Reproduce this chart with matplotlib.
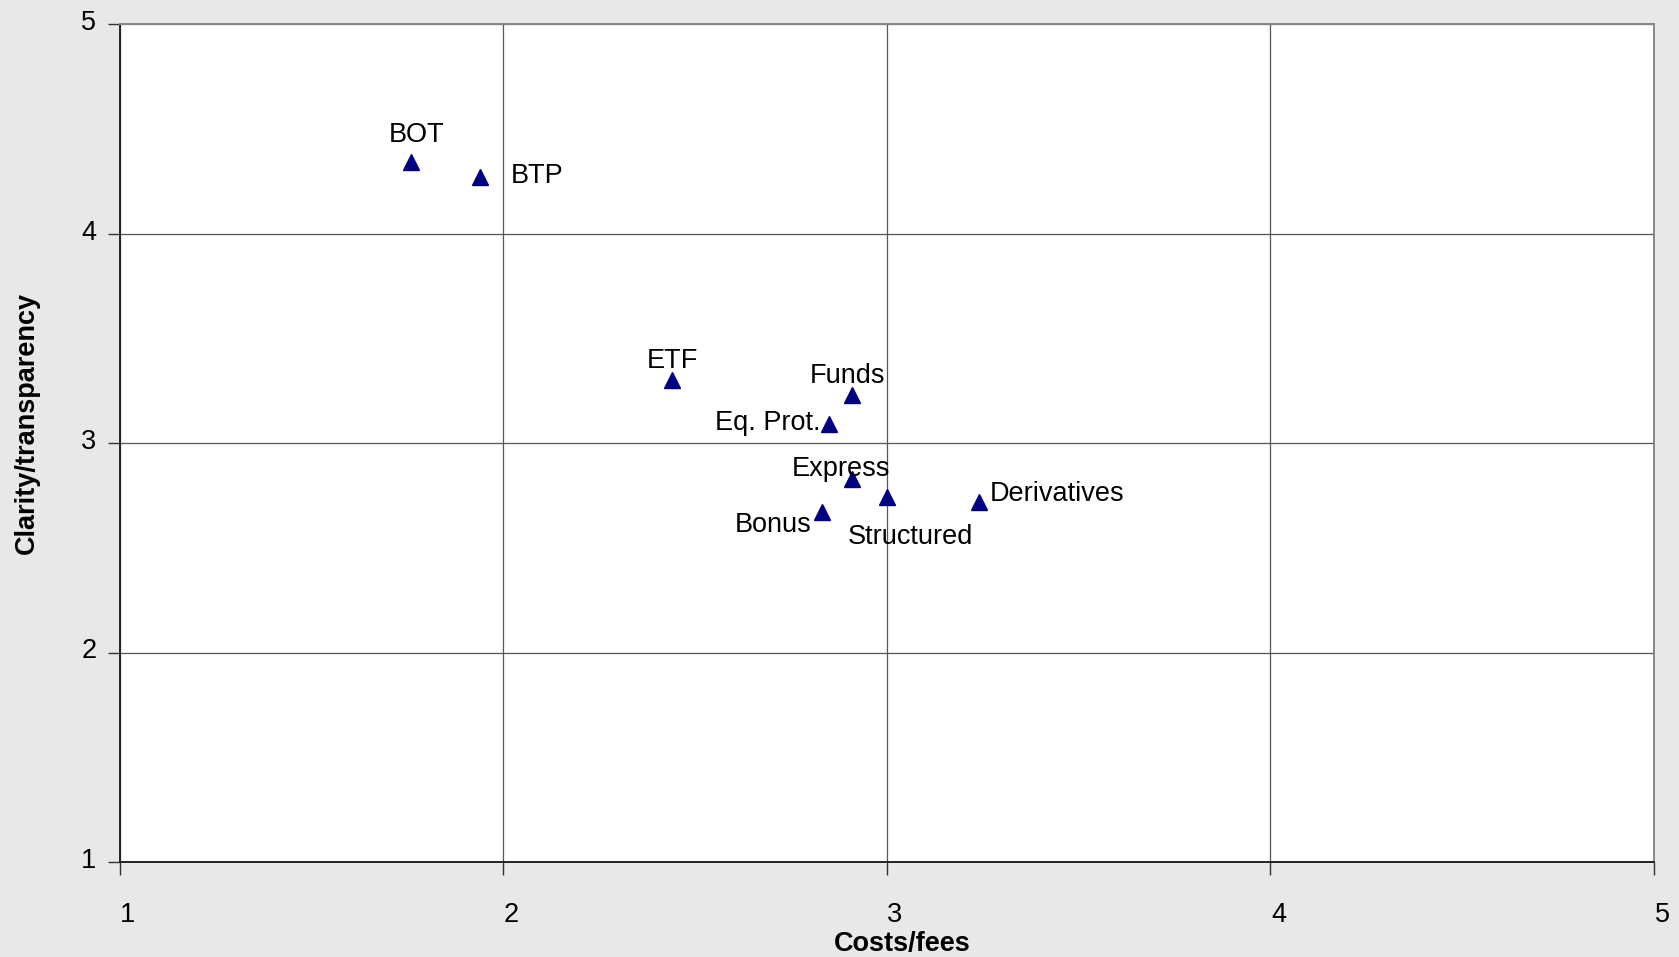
import matplotlib
matplotlib.use("Agg")
import matplotlib.pyplot as plt
from matplotlib.transforms import ScaledTranslation

plt.rcParams['font.family'] = ['Liberation Sans', 'DejaVu Sans']

labels = ["BOT", "BTP", "ETF", "Funds", "Eq. Prot.", "Express", "Structured", "Derivatives", "Bonus"]
costs = [1.76, 1.94, 2.44, 2.91, 2.85, 2.91, 3.00, 3.24, 2.83]
clarity = [4.34, 4.27, 3.30, 3.23, 3.09, 2.83, 2.74, 2.72, 2.67]
ticks = [1, 2, 3, 4, 5]

# label placement (offset pixels, alignment)
offsets = {
    "BOT": ((5, 27), 'center'),
    "BTP": ((30, 1), 'left'),
    "ETF": ((0, 19), 'center'),
    "Funds": ((-5, 19), 'center'),
    "Eq. Prot.": ((-9, 1), 'right'),
    "Express": ((-12, 10), 'center'),
    "Structured": ((23, -40), 'center'),
    "Derivatives": ((11, 8), 'left'),
    "Bonus": ((-10, -13), 'right'),
}

FS = 19.5
fig = plt.figure(figsize=(16.79, 9.57), dpi=100)
fig.patch.set_facecolor('#e8e8e8')
ax = fig.add_axes([120/1679, 1-862/957, (1654-120)/1679, (862-24)/957])
ax.set_facecolor('white')

ax.plot(costs, clarity, linestyle='none', marker='^', ms=11, color='#000080')
for lab, x, y in zip(labels, costs, clarity):
    off, ha = offsets[lab]
    ax.annotate(lab, (x, y), xytext=off, textcoords='offset pixels',
                ha=ha, va='center', fontsize=FS, color='black')

ax.set_xlim(1, 5)
ax.set_ylim(1, 5)
ax.set_xticks(ticks)
ax.set_yticks(ticks)
ax.set_xticklabels([str(t) for t in ticks], fontsize=FS)
ax.set_yticklabels([str(t) for t in ticks], fontsize=FS)
ax.grid(True, color='#555555', linewidth=0.9)
ax.set_axisbelow(True)
ax.tick_params(axis='both', direction='out', length=9, width=1, color='#333333')
ax.tick_params(axis='x', pad=20)
ax.tick_params(axis='y', pad=8)
for lbl in ax.get_xticklabels():
    lbl.set_transform(lbl.get_transform() + ScaledTranslation(8/100, 0, fig.dpi_scale_trans))
for lbl in ax.get_yticklabels():
    lbl.set_transform(lbl.get_transform() + ScaledTranslation(0, 4/100, fig.dpi_scale_trans))
for s in ['left', 'bottom']:
    ax.spines[s].set_color('#222222')
    ax.spines[s].set_linewidth(1.4)
for s in ['top', 'right']:
    ax.spines[s].set_color('#888888')
    ax.spines[s].set_linewidth(1.4)

ax.set_xlabel("Costs/fees", fontsize=FS, fontweight='bold', va='center')
ax.xaxis.set_label_coords(0.510, -0.098)
ax.set_ylabel("Clarity/transparency", fontsize=FS, fontweight='bold', va='center')
ax.yaxis.set_label_coords(-0.0606, 0.524)

fig.savefig("out.png", dpi=100, facecolor=fig.get_facecolor())
